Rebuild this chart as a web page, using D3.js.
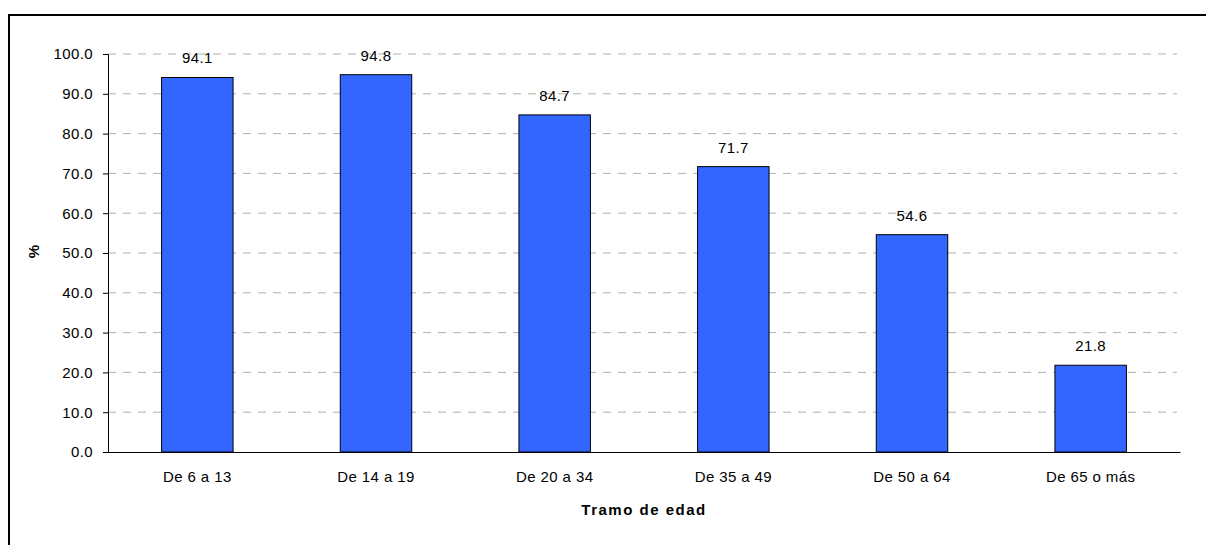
<!DOCTYPE html>
<html>
<head>
<meta charset="utf-8">
<script src="https://cdn.jsdelivr.net/npm/d3@7"></script>
<style>
    html, body { margin: 0; padding: 0; background: #fff; overflow: hidden; }
    svg { display: block; font-family: "Liberation Sans", Arial, sans-serif; }
</style>
</head>
<body>
<svg id="chart" width="1206" height="545"></svg>
<script>
// ==== data
const categories = ['De 6 a 13', 'De 14 a 19', 'De 20 a 34', 'De 35 a 49', 'De 50 a 64', 'De 65 o más'];
const values = [94.1, 94.8, 84.7, 71.7, 54.6, 21.8];
const yTicks = [0, 10, 20, 30, 40, 50, 60, 70, 80, 90, 100];

// ==== layout
const width = 1206;
const height = 545;
const margin = { top: 54, right: 26, bottom: 93, left: 108 };
const innerW = width - margin.left - margin.right;
const innerH = height - margin.top - margin.bottom;
const fontFamily = '"Liberation Sans", Arial, sans-serif';

const svg = d3.select('#chart');

// outer frame (runs off the right and bottom edges)
svg.append('rect')
    .attr('x', 9)
    .attr('y', 15)
    .attr('width', 1220)
    .attr('height', 560)
    .attr('fill', 'none')
    .attr('stroke', '#000')
    .attr('stroke-width', 2);

const g = svg.append('g')
    .attr('transform', 'translate(' + margin.left + ',' + margin.top + ')');

const x = d3.scaleBand().domain(categories).range([0, innerW]).paddingInner(0.6).paddingOuter(0.3);
const y = d3.scaleLinear().domain([0, 100]).range([innerH, 0]);

// gridlines
g.append('g')
    .selectAll('line')
    .data(yTicks.filter(d => d > 0))
    .enter()
    .append('line')
    .attr('x1', 0)
    .attr('x2', innerW - 3)
    .attr('y1', d => y(d))
    .attr('y2', d => y(d))
    .attr('stroke', '#b0b0b0')
    .attr('stroke-dasharray', '8,7');

// bars
g.selectAll('.bar')
    .data(values)
    .enter()
    .append('rect')
    .attr('class', 'bar')
    .attr('x', (d, i) => x(categories[i]))
    .attr('width', x.bandwidth())
    .attr('y', d => y(d))
    .attr('height', d => innerH - y(d))
    .attr('fill', '#3366FF')
    .attr('stroke', '#000')
    .attr('stroke-width', 1);

// value labels
g.selectAll('.lbl')
    .data(values)
    .enter()
    .append('text')
    .attr('class', 'lbl')
    .attr('x', (d, i) => x(categories[i]) + x.bandwidth() / 2)
    .attr('y', d => y(d) - 14)
    .attr('text-anchor', 'middle')
    .attr('font-size', 15)
    .attr('letter-spacing', 0.4)
    .attr('fill', '#000')
    .text(d => d.toFixed(1));

// y axis
const yAxis = g.append('g')
    .call(d3.axisLeft(y).tickValues(yTicks).tickSize(5).tickPadding(10).tickFormat(d3.format('.1f')));
yAxis.select('.domain').attr('stroke', '#000');
yAxis.selectAll('text')
    .attr('font-size', 15)
    .attr('letter-spacing', 0.4)
    .attr('fill', '#000')
    .attr('font-family', fontFamily);

// x axis
const xAxis = g.append('g')
    .attr('transform', 'translate(0,' + innerH + ')')
    .call(d3.axisBottom(x).tickSize(0).tickPadding(19));
xAxis.select('.domain').attr('stroke', '#000');
xAxis.selectAll('text')
    .attr('font-size', 15)
    .attr('letter-spacing', 0.4)
    .attr('fill', '#000')
    .attr('font-family', fontFamily);

// axis titles
svg.append('text')
    .attr('x', margin.left + innerW / 2)
    .attr('y', 515)
    .attr('text-anchor', 'middle')
    .attr('font-size', 15)
    .attr('font-weight', 'bold')
    .attr('letter-spacing', 1.5)
    .text('Tramo de edad');

svg.append('text')
    .attr('transform', 'translate(38.5,251.5) rotate(-90)')
    .attr('text-anchor', 'middle')
    .attr('font-size', 15)
    .attr('font-weight', 'bold')
    .text('%');
</script>
</body>
</html>
